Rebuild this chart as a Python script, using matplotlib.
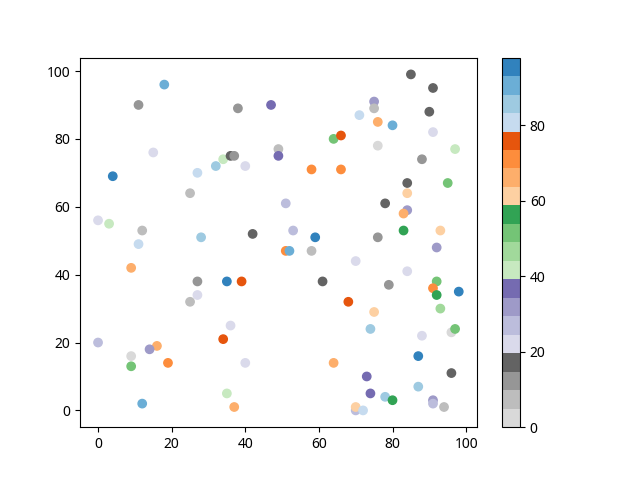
import matplotlib
matplotlib.use('Agg')
import matplotlib.pyplot as plt
import numpy as np

plt.rcParams['font.family'] = ['Noto Sans', 'DejaVu Sans']

# points: x, y and colour value
x = [18, 11, 38, 47, 15, 4, 27, 32, 34, 36, 37, 40, 49, 49, 25, 0, 3, 12, 11, 28,
     42, 85, 91, 75, 75, 90, 71, 76, 80, 91, 64, 66, 76, 97, 88, 58, 66, 84, 95, 84,
     51, 78, 84, 83, 53, 59, 76, 83, 93, 92, 9, 27, 35, 39, 27, 25, 36, 34, 0, 16,
     14, 9, 9, 19, 40, 35, 37, 12, 51, 52, 58, 70, 84, 61, 79, 92, 91, 92, 98, 68,
     75, 93, 74, 96, 97, 88, 64, 87, 73, 96, 74, 78, 80, 87, 91, 91, 94, 70, 70, 72]
y = [96, 90, 89, 90, 76, 69, 70, 72, 74, 75, 75, 72, 77, 75, 64, 56, 55, 53, 49, 51,
     52, 99, 95, 91, 89, 88, 87, 85, 84, 82, 80, 81, 78, 77, 74, 71, 71, 67, 67, 64,
     61, 61, 59, 58, 53, 51, 51, 53, 53, 48, 42, 38, 38, 38, 34, 32, 25, 21, 20, 19,
     18, 16, 13, 14, 14, 5, 1, 2, 47, 47, 47, 44, 41, 38, 37, 38, 36, 34, 35, 32,
     29, 30, 24, 23, 24, 22, 14, 16, 10, 11, 5, 4, 3, 7, 3, 2, 1, 0, 1, 0]
c = [91, 12, 12, 37, 22, 96, 81, 86, 41, 17, 12, 22, 7, 37, 7, 22, 41, 7, 81, 86,
     17, 17, 17, 32, 7, 17, 81, 66, 91, 22, 51, 76, 2, 41, 12, 71, 71, 17, 51, 61,
     27, 17, 32, 66, 27, 96, 12, 56, 61, 32, 66, 12, 96, 76, 22, 7, 22, 76, 27, 66,
     32, 2, 51, 71, 22, 41, 66, 91, 71, 91, 7, 22, 22, 17, 12, 51, 71, 56, 96, 76,
     61, 46, 86, 2, 51, 22, 66, 96, 37, 17, 37, 86, 56, 86, 32, 27, 7, 27, 61, 81]

fig, ax = plt.subplots(figsize=(6.4, 4.8), dpi=100)
sc = ax.scatter(np.array(x), np.array(y), c=np.array(c), cmap='tab20c_r', vmin=0, vmax=98)
fig.colorbar(sc, ax=ax)
fig.savefig('out.png')
